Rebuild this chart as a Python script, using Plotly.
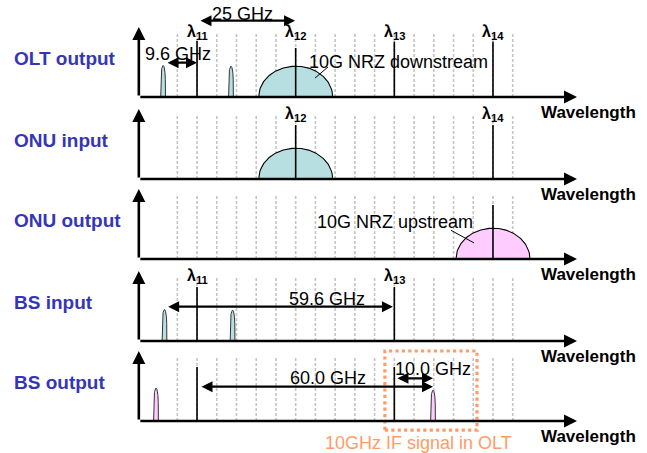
import numpy as np
import plotly.graph_objects as go

# ---------------- data ----------------
panel_names = ["OLT output", "ONU input", "ONU output", "BS input", "BS output"]
grid_positions = list(range(18))            # dashed channel grid (arbitrary wavelength units)
lambda_names = ["λ<sub>11</sub>", "λ<sub>12</sub>", "λ<sub>13</sub>", "λ<sub>14</sub>"]
lambda_pos = [1, 6, 11, 16]

# solid carrier lines per panel (index into lambda_pos) and their heights
panel_lines = [[0, 1, 2, 3], [1, 3], [3], [0, 2], [0, 2]]
panel_line_heights = [[0.8, 0.7, 0.79, 0.79], [0.77, 0.77], [0.77], [0.77, 0.77], [0.77, 0.77]]
panel_line_labels = [[0, 1, 2, 3], [1, 3], [], [0, 2], []]

# modulated data spectra (domes): panel, centre, half-width, height, kind
dome_panel = [0, 1, 2]
dome_center = [6, 6, 16]
dome_halfwidth = [1.875, 1.875, 1.875]
dome_height = [0.44, 0.44, 0.44]
dome_kind = ["down", "down", "up"]

# narrow IF side peaks: panel, centre, height, kind
peak_panel = [0, 0, 3, 3, 4, 4]
peak_center = [-0.72, 2.72, -0.65, 2.8, -1.08, 12.96]
peak_height = [0.45, 0.44, 0.45, 0.44, 0.47, 0.44]
peak_kind = ["down", "down", "down", "down", "up", "up"]

# ---------------- layout helpers ----------------
W, H = 647, 453
X0PX, DXPX = 177.3, 19.73                       # px of grid 0 and grid spacing
baselines_px = [97, 179, 259, 341, 421]
PANEL_PX = 70
Y_LO, Y_HI = -0.42, 1.3
x_range = [(0 - X0PX) / DXPX, (W - X0PX) / DXPX]
axis_start, axis_end = -1.95, 20.26

fill_col = {"down": "#B7DFE2", "up": "#FFCCFF"}
label_blue = "#3535B8"
orange = "#FF9C66"
FONT = "Liberation Sans, Arial, sans-serif"

fig = go.Figure()
annotations = []

def yname(i):
    return "y" if i == 0 else f"y{i+1}"

for i, b in enumerate(baselines_px):
    yr = yname(i)
    gx, gy = [], []
    for g in grid_positions:
        gx += [g, g, None]
        gy += [0, 0.91, None]
    fig.add_trace(go.Scatter(x=gx, y=gy, mode="lines", yaxis=yr,
                             line=dict(color="#C4C4C4", width=1.6, dash="3px,2px"),
                             hoverinfo="skip", showlegend=False))

# domes
for p, c, hw, h, k in zip(dome_panel, dome_center, dome_halfwidth, dome_height, dome_kind):
    t = np.linspace(-1, 1, 121)
    xs = c + hw * t
    ys = h * np.sqrt(np.clip(1 - t ** 2, 0, 1))
    fig.add_trace(go.Scatter(x=list(xs), y=list(ys), mode="lines", fill="toself",
                             fillcolor=fill_col[k], yaxis=yname(p),
                             line=dict(color="black", width=1.1),
                             hoverinfo="skip", showlegend=False))

# narrow peaks
for p, c, h, k in zip(peak_panel, peak_center, peak_height, peak_kind):
    t = np.linspace(-1, 1, 41)
    xs = c + 0.12 * t
    ys = h * np.clip(1 - t ** 2, 0, 1) ** 0.25
    fig.add_trace(go.Scatter(x=list(xs), y=list(ys), mode="lines", fill="toself",
                             fillcolor=fill_col[k], yaxis=yname(p),
                             line=dict(color="#333333", width=1),
                             hoverinfo="skip", showlegend=False))

# solid carrier lines + labels
for i in range(5):
    lx, ly = [], []
    for li, hh in zip(panel_lines[i], panel_line_heights[i]):
        lx += [lambda_pos[li], lambda_pos[li], None]
        ly += [0, hh, None]
    fig.add_trace(go.Scatter(x=lx, y=ly, mode="lines", yaxis=yname(i),
                             line=dict(color="black", width=1.6),
                             hoverinfo="skip", showlegend=False))
    for li in panel_line_labels[i]:
        annotations.append(dict(x=lambda_pos[li], y=0.92, xref="x", yref=yname(i),
                                text="<b>" + lambda_names[li] + "</b>", showarrow=False,
                                font=dict(size=16, color="black", family=FONT),
                                xanchor="center", yanchor="middle"))

# axes with arrows, panel names, Wavelength labels
for i in range(5):
    yr = yname(i)
    annotations.append(dict(x=axis_end, y=0, ax=axis_start, ay=0, xref="x", yref=yr,
                            axref="x", ayref=yr, showarrow=True, arrowhead=2, arrowsize=1,
                            arrowwidth=2.6, arrowcolor="black", text=""))
    annotations.append(dict(x=axis_start, y=1.0, ax=axis_start, ay=0, xref="x", yref=yr,
                            axref="x", ayref=yr, showarrow=True, arrowhead=2, arrowsize=1,
                            arrowwidth=2.6, arrowcolor="black", text=""))
    annotations.append(dict(x=(12 - X0PX) / DXPX, y=0.55, xref="x", yref=yr,
                            text="<b>" + panel_names[i] + "</b>",
                            showarrow=False, font=dict(size=19, color=label_blue, family=FONT),
                            xanchor="left", yanchor="middle"))
    annotations.append(dict(x=20.85, y=-0.22, xref="x", yref=yr, text="<b>Wavelength</b>",
                            showarrow=False, font=dict(size=17, color="black", family=FONT),
                            xanchor="center", yanchor="middle"))

def dbl_arrow(x1, x2, y, yr):
    annotations.append(dict(x=x2, y=y, ax=x1, ay=y, xref="x", yref=yr, axref="x", ayref=yr,
                            showarrow=True, arrowhead=2, arrowsize=1, arrowwidth=2.2,
                            arrowside="end+start", arrowcolor="black", text=""))

def txt(x, y, yr, s, size=18, color="black"):
    annotations.append(dict(x=x, y=y, xref="x", yref=yr, text=s, showarrow=False,
                            font=dict(size=size, color=color, family=FONT),
                            xanchor="center", yanchor="middle"))

# Panel 1 annotations
dbl_arrow(1.1, 5.97, 1.09, "y")
txt(3.32, 1.19, "y", "25 GHz")
dbl_arrow(-0.57, 1.0, 0.49, "y")
txt(0.03, 0.61, "y", "9.6 GHz")
txt(11.2, 0.5, "y", "10G NRZ downstream")
fig.add_trace(go.Scatter(x=[6.98, 7.64], y=[0.27, 0.43], mode="lines", yaxis="y",
                         line=dict(color="black", width=1), hoverinfo="skip", showlegend=False))
# Panel 3
txt(11.04, 0.53, "y3", "10G NRZ upstream")
fig.add_trace(go.Scatter(x=[13.87, 15.04], y=[0.41, 0.23], mode="lines", yaxis="y3",
                         line=dict(color="black", width=1), hoverinfo="skip", showlegend=False))
# Panel 4
dbl_arrow(-0.54, 10.93, 0.49, "y4")
txt(7.59, 0.6, "y4", "59.6 GHz")
# Panel 5
dbl_arrow(1.15, 12.96, 0.49, "y5")
txt(7.64, 0.61, "y5", "60.0 GHz")
dbl_arrow(11.08, 12.96, 0.61, "y5")
txt(12.96, 0.74, "y5", "10.0 GHz")
txt(12.2, -0.31, "y5", "10GHz IF signal in OLT", color=orange)

shapes = [dict(type="rect", xref="x", yref="y5", x0=10.52, x1=15.19, y0=-0.13, y1=1.0,
               line=dict(color=orange, width=3.2, dash="dot"), fillcolor="rgba(0,0,0,0)")]

layout = dict(width=W, height=H, margin=dict(l=0, r=0, t=0, b=0),
              plot_bgcolor="rgba(0,0,0,0)", paper_bgcolor="white", showlegend=False,
              annotations=annotations, shapes=shapes,
              xaxis=dict(range=x_range, visible=False, domain=[0, 1]))
for i, b in enumerate(baselines_px):
    key = "yaxis" if i == 0 else f"yaxis{i+1}"
    bot_px = b - Y_LO * PANEL_PX
    top_px = b - Y_HI * PANEL_PX
    layout[key] = dict(range=[Y_LO, Y_HI], visible=False,
                       domain=[max(0, 1 - bot_px / H), 1 - top_px / H], anchor="x")
fig.update_layout(**layout)
fig.write_html("out.html", config={"displayModeBar": False},
               post_script="document.body.style.margin='0px';")
